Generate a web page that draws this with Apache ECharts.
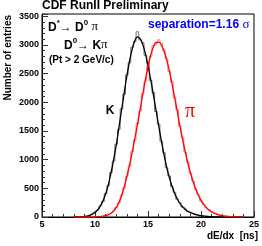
<!DOCTYPE html>
<html>
<head>
<meta charset="utf-8">
<script src="https://cdn.jsdelivr.net/npm/echarts@6/dist/echarts.min.js"></script>
<style>html,body{margin:0;padding:0;background:#fff;}#c{width:262px;height:246px;}</style>
</head>
<body>
<div id="c"></div>
<script>
// dE/dx bin centres [ns]
var xs = [8.00,8.25,8.50,8.75,9.00,9.25,9.50,9.75,10.00,10.25,10.50,10.75,11.00,11.25,11.50,11.75,
  12.00,12.25,12.50,12.75,13.00,13.25,13.50,13.75,14.00,14.25,14.50,14.75,15.00,15.25,15.50,15.75,
  16.00,16.25,16.50,16.75,17.00,17.25,17.50,17.75,18.00,18.25,18.50,18.75,19.00,19.25,19.50,19.75,
  20.00,20.25,20.50,20.75,21.00,21.25,21.50,21.75,22.00,22.25,22.50,22.75,23.00,23.25,23.50,23.75,24.00];
// K histogram (entries)
var kHist = [0,0,3,5,9,14,33,47,85,120,198,272,410,548,775,975,
  1270,1530,1890,2140,2480,2690,2960,3060,3230,3090,3040,2820,2670,2380,2170,1840,
  1620,1320,1120,860,715,530,430,310,250,172,140,95,78,52,45,28,
  24,14,12,6,5,2,2,1,0,0,0,0,0,0,0,0,0];
// K fit
var kFit = [0,1,2,4,8,16,30,50,80,125,190,280,400,560,760,990,
  1250,1550,1860,2160,2450,2710,2920,3070,3140,3110,3010,2850,2640,2400,2140,1870,
  1600,1340,1100,880,700,545,420,320,240,180,135,100,75,57,42,31,
  22,16,11,8,5,3,2,1,0,0,0,0,0,0,0,0,0];
// pi histogram (entries)
var piHist = [0,0,0,0,0,0,0,3,2,6,8,12,26,38,68,102,
  170,245,380,510,710,890,1140,1340,1630,1850,2150,2370,2640,2800,2990,3020,
  3090,3030,2910,2760,2540,2360,2080,1870,1580,1390,1130,960,760,630,480,390,
  280,225,160,125,85,68,45,35,20,17,10,8,4,3,1,0,0];
// pi fit
var piFit = [0,0,0,0,0,0,1,2,3,5,8,14,24,40,65,105,
  165,250,370,520,700,900,1120,1360,1610,1870,2130,2390,2620,2820,2960,3040,
  3050,3000,2900,2750,2560,2340,2100,1850,1600,1370,1150,950,775,620,490,380,
  290,220,165,122,90,65,47,33,23,16,11,7,5,3,2,1,0];
var yTicks = [0,500,1000,1500,2000,2500,3000,3500];
var xTicks = [5,10,15,20,25];

function pairs(v){ return xs.map(function(x,i){ return [x, v[i]]; }); }

var chart = echarts.init(document.getElementById('c'), null, {renderer:'canvas'});
chart.setOption({
  animation: false,
  grid: {left: 42, right: 4, top: 14, bottom: 29, show: true, borderColor: '#000', borderWidth: 1, backgroundColor: 'transparent'},
  xAxis: {
    type: 'value', min: 5, max: 25, interval: 5,
    axisLine: {lineStyle: {color: '#000', width: 1}},
    axisTick: {inside: true, length: 6, lineStyle: {color: '#333'}},
    minorTick: {show: true, splitNumber: 5, length: 3, lineStyle: {color: '#333'}},
    splitLine: {show: false},
    axisLabel: {color: '#000', fontWeight: 'bold', fontSize: 9, fontFamily: 'Liberation Sans', margin: 3,
      formatter: function(v){ return xTicks.indexOf(v) >= 0 ? String(v) : ''; }}
  },
  yAxis: {
    type: 'value', min: 0, max: 3540, interval: 500,
    axisLine: {show: true, lineStyle: {color: '#000', width: 1}},
    axisTick: {inside: true, length: 6, lineStyle: {color: '#333'}},
    minorTick: {show: true, splitNumber: 5, length: 3, lineStyle: {color: '#333'}},
    splitLine: {show: false},
    axisLabel: {color: '#000', fontWeight: 'bold', fontSize: 9, fontFamily: 'Liberation Sans', margin: 3,
      formatter: function(v){ return yTicks.indexOf(v) >= 0 ? String(v) : ''; }}
  },
  series: [
    {type: 'line', step: 'middle', data: pairs(kHist), showSymbol: false, lineStyle: {color: '#777', width: 1}, z: 2},
    {type: 'line', step: 'middle', data: pairs(piHist), showSymbol: false, lineStyle: {color: '#ff7a7a', width: 1}, z: 2},
    {type: 'line', smooth: true, data: pairs(kFit), showSymbol: false, lineStyle: {color: '#000', width: 1.3}, z: 3},
    {type: 'line', smooth: true, data: pairs(piFit), showSymbol: false, lineStyle: {color: '#ff0000', width: 1.3}, z: 3}
  ],
  graphic: [
    {type: 'text', style: {text: 'CDF RunII Preliminary', x: 42, y: 6, textVerticalAlign: 'middle', font: 'bold 12px "Liberation Sans", Arial, sans-serif', fill: '#000'}},
    {type: 'text', rotation: Math.PI/2, x: 8, y: 15, style: {text: 'Number of entries', x: 0, y: 0, textAlign: 'right', textVerticalAlign: 'middle', font: 'bold 10px "Liberation Sans", Arial, sans-serif', fill: '#000'}},
    {type: 'text', style: {text: 'dE/dx  [ns]', x: 258, y: 236, textAlign: 'right', textVerticalAlign: 'middle', font: 'bold 10px "Liberation Sans", Arial, sans-serif', fill: '#000'}},
    {type: 'text', style: {text: '{m|D}{s|*}{m|\u2192 D}{s|0}{p| \u03c0}', x: 48, y: 26, textVerticalAlign: 'middle',
      rich: {m: {font: 'bold 12px "Liberation Sans", Arial', fill: '#000', verticalAlign: 'bottom', lineHeight: 15},
             s: {font: 'bold 8px "Liberation Sans", Arial', fill: '#000', verticalAlign: 'top', lineHeight: 15},
             p: {font: '13px "Liberation Serif", serif', fill: '#000', verticalAlign: 'bottom', lineHeight: 15}}}},
    {type: 'text', style: {text: '{m|D}{s|0}{m|\u2192 K}{p|\u03c0}', x: 64, y: 44, textVerticalAlign: 'middle',
      rich: {m: {font: 'bold 12px "Liberation Sans", Arial', fill: '#000', verticalAlign: 'bottom', lineHeight: 15},
             s: {font: 'bold 8px "Liberation Sans", Arial', fill: '#000', verticalAlign: 'top', lineHeight: 15},
             p: {font: '13px "Liberation Serif", serif', fill: '#000', verticalAlign: 'bottom', lineHeight: 15}}}},
    {type: 'text', style: {text: '(Pt > 2 GeV/c)', x: 49, y: 60, textVerticalAlign: 'middle', font: 'bold 10px "Liberation Sans", Arial, sans-serif', fill: '#000'}},
    {type: 'text', style: {text: '{m|separation=1.16 }{p|\u03c3}', x: 148, y: 25, textVerticalAlign: 'middle',
      rich: {m: {font: 'bold 12px "Liberation Sans", Arial', fill: '#0000ff'},
             p: {font: '13px "Liberation Serif", serif', fill: '#0000ff'}}}},
    {type: 'text', style: {text: 'K', x: 110, y: 111, textAlign: 'center', textVerticalAlign: 'middle', font: 'bold 12px "Liberation Sans", Arial, sans-serif', fill: '#000'}},
    {type: 'text', style: {text: '\u03c0', x: 190, y: 112, textAlign: 'center', textVerticalAlign: 'middle', font: '20px "Liberation Serif", serif', fill: '#ff0000'}}
  ]
});
</script>
</body>
</html>
